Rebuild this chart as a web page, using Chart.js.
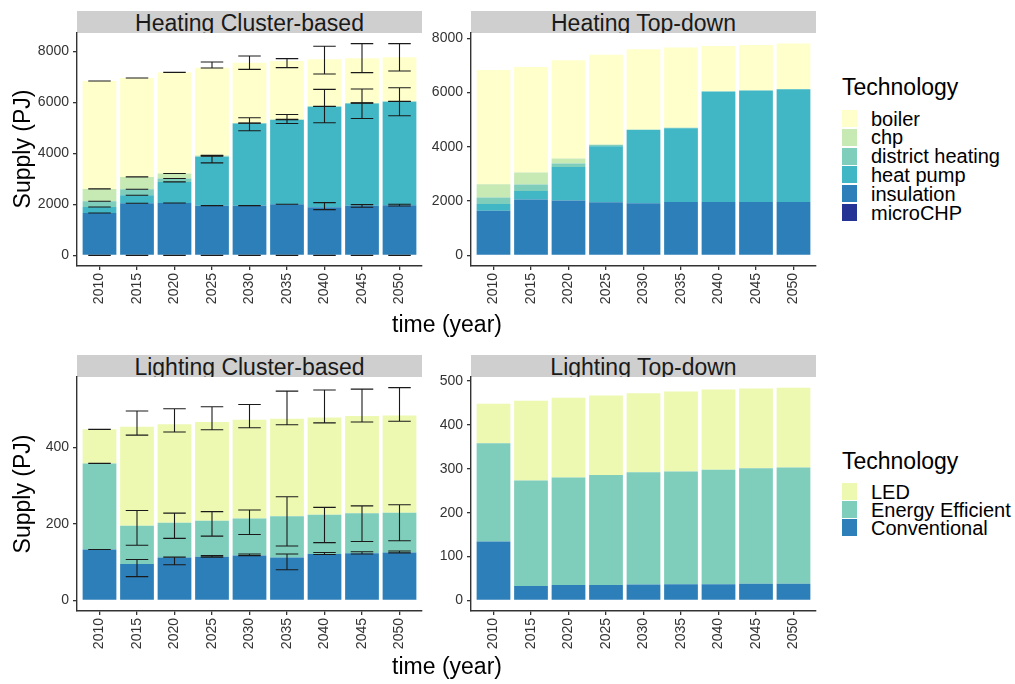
<!DOCTYPE html>
<html>
<head>
<meta charset="utf-8">
<script src="https://cdn.jsdelivr.net/npm/chart.js@4"></script>
<style>
body { margin: 0; background: #fff; font-family: 'Liberation Sans', Arial, sans-serif; }
#page { position: relative; width: 1015px; height: 684px; overflow: hidden; }
.box { position: absolute; }
.strip { position: absolute; background: #CFCFCF; height: 22px; overflow: hidden; text-align: center;
  font-size: 23px; line-height: 24px; color: #1a1a1a; }
.ytitle { position: absolute; width: 200px; height: 26px; line-height: 26px; text-align: center;
  font-size: 23px; transform: rotate(-90deg); white-space: nowrap; color: #000; }
.xtitle { position: absolute; width: 200px; text-align: center; font-size: 23px; color: #000; }
.ltitle { position: absolute; font-size: 23px; color: #000; }
.key { position: absolute; width: 15px; height: 17px; }
.lab { position: absolute; font-size: 20px; line-height: 20px; color: #000; white-space: nowrap; }
</style>
</head>
<body>
<div id="page">
  <div class="strip" style="left:77px;top:11px;width:345px;">Heating Cluster-based</div>
  <div class="strip" style="left:471px;top:11px;width:345px;">Heating Top-down</div>
  <div class="strip" style="left:77px;top:355px;width:345px;">Lighting Cluster-based</div>
  <div class="strip" style="left:471px;top:355px;width:345px;">Lighting Top-down</div>
  <div class="box" style="left:7px;top:23px;width:425px;height:298px;"><canvas id="hc"></canvas></div>
  <div class="box" style="left:401px;top:23px;width:425px;height:298px;"><canvas id="ht"></canvas></div>
  <div class="box" style="left:7px;top:367px;width:425px;height:299px;"><canvas id="lc"></canvas></div>
  <div class="box" style="left:401px;top:367px;width:425px;height:299px;"><canvas id="lt"></canvas></div>
  <div class="ytitle" style="left:-78px;top:136px;">Supply (PJ)</div>
  <div class="ytitle" style="left:-78px;top:481px;">Supply (PJ)</div>
  <div class="xtitle" style="left:347px;top:311px;">time (year)</div>
  <div class="xtitle" style="left:347px;top:653px;">time (year)</div>
  <div id="legHeat"></div>
  <div id="legLight"></div>
</div>
<script>
const years = ['2010', '2015', '2020', '2025', '2030', '2035', '2040', '2045', '2050'];

// Heating, cluster-based (PJ per technology)
const hcBoiler = [4233, 3881, 3972, 3451, 2366, 2290, 1841, 1750, 1723];
const hcChp = [485, 484, 192, 25, 10, 15, 10, 10, 10];
const hcDistrict = [225, 236, 136, 25, 10, 15, 10, 10, 10];
const hcHeatPump = [235, 315, 826, 1914, 3225, 3304, 3946, 4012, 4065];
const hcInsulation = [1665, 2045, 2058, 1953, 1953, 2006, 1888, 1953, 1966];
const hcMicroCHP = [0, 0, 0, 0, 0, 0, 0, 0, 0];
// error bars [low, high] at the stacked positions
const hcBoilerErr = [[6843, 6843], [6961, 6961], [7184, 7184], [7355, 7590], [7302, 7827], [7368, 7722], [7119, 8207], [7171, 8312], [7237, 8312]];
const hcChpErr = [[2610, 2610], [3080, 3080], [3212, 3212], [3917, 3917], [5198, 5198], [5340, 5340], [5854, 5854], [5985, 5985], [6051, 6051]];
const hcDistrictErr = [[2125, 2125], [2596, 2596], [3020, 3020], [3892, 3892], [5188, 5188], [5325, 5325], [5844, 5844], [5975, 5975], [6041, 6041]];
const hcHeatPumpErr = [[1900, 1900], [2360, 2360], [2884, 2884], [3631, 3933], [4890, 5401], [5178, 5532], [5205, 6516], [5375, 6529], [5480, 6581]];
const hcInsulationErr = [[1665, 1665], [2045, 2045], [2058, 2058], [1953, 1953], [1953, 1953], [2006, 2006], [1796, 2071], [1888, 1993], [1940, 2006]];
const hcMicroCHPErr = [[0, 0], [0, 0], [0, 0], [0, 0], [0, 0], [0, 0], [0, 0], [0, 0], [0, 0]];

// Heating, top-down
const htBoiler = [4210, 3890, 3619, 3323, 2966, 2952, 1674, 1674, 1687];
const htChp = [492, 443, 185, 0, 0, 0, 0, 0, 0];
const htDistrict = [234, 234, 123, 50, 0, 15, 0, 0, 0];
const htHeatPump = [246, 320, 1243, 2068, 2709, 2720, 4074, 4111, 4148];
const htInsulation = [1650, 2056, 2019, 1957, 1920, 1970, 1970, 1970, 1970];
const htMicroCHP = [0, 0, 0, 0, 0, 0, 0, 0, 0];

// Lighting, cluster-based
const lcLED = [89, 259, 257, 258, 258, 255, 254, 254, 254];
const lcEfficient = [225, 100, 91, 94, 97, 108, 103, 105, 104];
const lcConventional = [133, 95, 112, 114, 117, 112, 121, 123, 125];
const lcLEDErr = [[447, 447], [432, 495], [440, 501], [446, 506], [451, 512], [459, 547], [464, 550], [466, 552], [468, 556]];
const lcEfficientErr = [[358, 358], [144, 235], [162, 228], [168, 232], [172, 236], [142, 271], [151, 243], [154, 247], [156, 250]];
const lcConventionalErr = [[133, 133], [62, 107], [93, 113], [113, 117], [117, 121], [80, 121], [120, 125], [121, 127], [124, 129]];

// Lighting, top-down
const ltLED = [90, 182, 182, 181, 180, 182, 183, 182, 182];
const ltEfficient = [224, 240, 245, 251, 256, 257, 261, 263, 265];
const ltConventional = [134, 33, 35, 35, 36, 37, 37, 38, 38];

const heatTicks = [0, 2000, 4000, 6000, 8000];
const lightClusterTicks = [0, 200, 400];
const lightTopTicks = [0, 100, 200, 300, 400, 500];

const heatNames = ['boiler', 'chp', 'district heating', 'heat pump', 'insulation', 'microCHP'];
const heatColors = ['#FFFFCC', '#C7E9B4', '#7FCDBB', '#41B6C4', '#2C7FB8', '#253494'];
const lightNames = ['LED', 'Energy Efficient', 'Conventional'];
const lightColors = ['#EDF8B1', '#7FCDBB', '#2C7FB8'];

const errorBars = {
    id: 'errorBars',
    afterDatasetsDraw(chart, args, opts) {
        if (!opts.sets) return;
        const x = chart.scales.x;
        const y = chart.scales.y;
        const ctx = chart.ctx;
        const half = (x.getPixelForValue(2) - x.getPixelForValue(1)) * 0.3;
        ctx.save();
        ctx.strokeStyle = '#1a1a1a';
        ctx.lineWidth = 1.1;
        opts.sets.forEach((set) => {
            set.forEach((e, i) => {
                const cx = x.getPixelForValue(i + 1);
                const lo = y.getPixelForValue(e[0]);
                const hi = y.getPixelForValue(e[1]);
                ctx.beginPath();
                ctx.moveTo(cx - half, lo); ctx.lineTo(cx + half, lo);
                ctx.moveTo(cx - half, hi); ctx.lineTo(cx + half, hi);
                ctx.moveTo(cx, lo); ctx.lineTo(cx, hi);
                ctx.stroke();
            });
        });
        ctx.restore();
    }
};

function toPoints(values) {
    return values.map((v, i) => ({ x: i + 1, y: v }));
}

// bottom-to-top order, names/colors listed top-to-bottom as in the legend
function makeDatasets(series, names, colors) {
    return series.map((s, k) => {
        const j = names.length - 1 - k;
        return { label: names[j], data: toPoints(s), backgroundColor: colors[j], borderWidth: 0 };
    });
}

function makePanel(id, datasets, errs, yTicks) {
    let top = 0;
    years.forEach((y, i) => {
        let sum = 0;
        datasets.forEach((d) => { sum += d.data[i].y; });
        top = Math.max(top, sum);
    });
    errs.forEach((set) => set.forEach((e) => { top = Math.max(top, e[1]); }));
    const pad = top * 0.05;

    const fixPadding = (scale) => {
        scale.paddingTop = 0; scale.paddingBottom = 0;
        scale.paddingLeft = 0; scale.paddingRight = 0;
    };

    return new Chart(document.getElementById(id), {
        type: 'bar',
        data: { datasets: datasets },
        plugins: [errorBars],
        options: {
            responsive: true,
            maintainAspectRatio: false,
            animation: false,
            layout: { padding: { top: 10, right: 10, left: 0, bottom: 0 } },
            datasets: { bar: { barPercentage: 0.9, categoryPercentage: 1.0 } },
            plugins: {
                legend: { display: false },
                tooltip: { enabled: false },
                errorBars: { sets: errs }
            },
            scales: {
                x: {
                    type: 'linear',
                    stacked: true,
                    offset: false,
                    min: 0.4,
                    max: 9.6,
                    afterBuildTicks: (s) => { s.ticks = years.map((y, i) => ({ value: i + 1 })); },
                    afterFit: (s) => { s.height = 55; fixPadding(s); },
                    grid: { offset: false, drawOnChartArea: false, drawTicks: true, tickLength: 4, color: '#333', lineWidth: 1.3 },
                    border: { display: true, color: '#333', width: 1.4 },
                    ticks: {
                        autoSkip: false, maxRotation: 90, minRotation: 90, padding: 3,
                        color: '#333', font: { size: 14, family: "'Liberation Sans', Arial, sans-serif" },
                        callback: (v, i) => years[i]
                    }
                },
                y: {
                    stacked: true,
                    min: -pad,
                    max: top + pad,
                    afterBuildTicks: (s) => { s.ticks = yTicks.map((v) => ({ value: v })); },
                    afterFit: (s) => { s.width = 70; fixPadding(s); },
                    grid: { drawOnChartArea: false, drawTicks: true, tickLength: 4, color: '#333', lineWidth: 1.3 },
                    border: { display: true, color: '#333', width: 1.4 },
                    ticks: {
                        padding: 4, color: '#333', font: { size: 14, family: "'Liberation Sans', Arial, sans-serif" },
                        callback: (v) => String(v)
                    }
                }
            }
        }
    });
}

makePanel('hc',
    makeDatasets([hcMicroCHP, hcInsulation, hcHeatPump, hcDistrict, hcChp, hcBoiler], heatNames, heatColors),
    [hcMicroCHPErr, hcInsulationErr, hcHeatPumpErr, hcDistrictErr, hcChpErr, hcBoilerErr], heatTicks);
makePanel('ht',
    makeDatasets([htMicroCHP, htInsulation, htHeatPump, htDistrict, htChp, htBoiler], heatNames, heatColors),
    [], heatTicks);
makePanel('lc',
    makeDatasets([lcConventional, lcEfficient, lcLED], lightNames, lightColors),
    [lcConventionalErr, lcEfficientErr, lcLEDErr], lightClusterTicks);
makePanel('lt',
    makeDatasets([ltConventional, ltEfficient, ltLED], lightNames, lightColors),
    [], lightTopTicks);

function buildLegend(elId, names, colors, titleTop, keyTop, step) {
    const el = document.getElementById(elId);
    let html = '<div class="ltitle" style="left:842px;top:' + titleTop + 'px;">Technology</div>';
    names.forEach((n, i) => {
        const t = keyTop + step * i;
        html += '<div class="key" style="left:842px;top:' + t + 'px;background:' + colors[i] + ';"></div>';
        html += '<div class="lab" style="left:871px;top:' + (t - 1.5) + 'px;">' + n + '</div>';
    });
    el.innerHTML = html;
}
buildLegend('legHeat', heatNames, heatColors, 74, 110, 18.8);
buildLegend('legLight', lightNames, lightColors, 448, 483, 18);
</script>
</body>
</html>
